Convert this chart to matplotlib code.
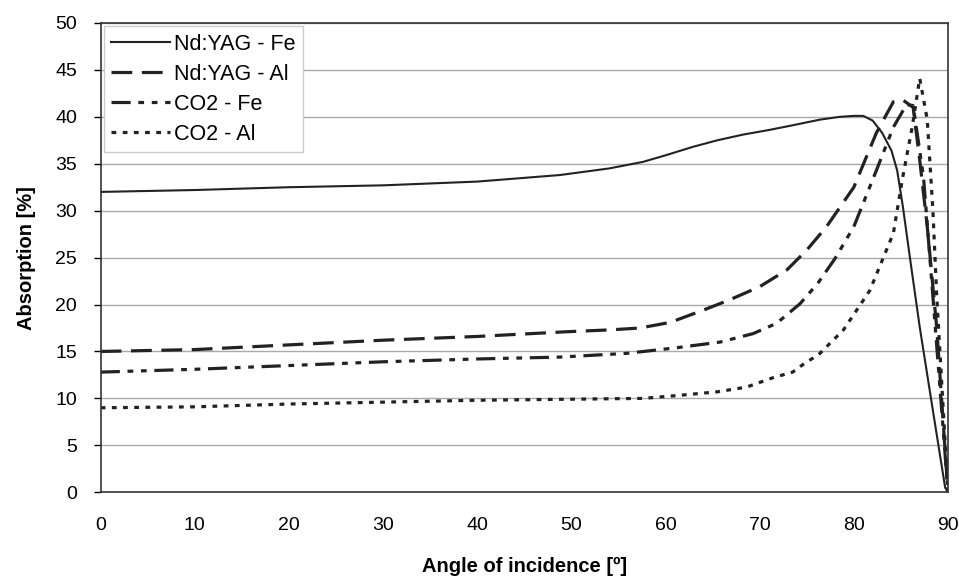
import numpy as np
import matplotlib.pyplot as plt

plt.rcParams['font.family'] = ['Liberation Sans', 'DejaVu Sans']

# Nd:YAG - Fe
angle_yag_fe = [0, 10, 20, 30, 40, 48.8, 54, 57.6, 60, 62.9, 65.5, 68.2, 71, 73.5, 76.4, 78.5, 80, 81, 82, 83, 84, 84.6, 85.2, 86, 87, 88.4, 89.7, 90]
abs_yag_fe = [32.0, 32.2, 32.5, 32.7, 33.1, 33.8, 34.5, 35.2, 35.9, 36.8, 37.5, 38.1, 38.6, 39.1, 39.7, 40.0, 40.1, 40.1, 39.6, 38.3, 36.4, 34.3, 30.5, 24.7, 17.6, 8.7, 0.5, 0.0]

# Nd:YAG - Al
angle_yag_al = [0, 10, 20, 30, 40, 49.5, 54.1, 57.3, 60.5, 64, 66.8, 70, 72.9, 75, 77.1, 80, 82.4, 84.2, 85.2, 86.3, 87, 87.8, 88.8, 90]
abs_yag_al = [15.0, 15.2, 15.7, 16.2, 16.6, 17.1, 17.3, 17.5, 18.1, 19.4, 20.5, 21.9, 23.7, 25.8, 28.3, 32.5, 38.3, 41.6, 41.8, 41.0, 35.4, 28.3, 17.6, 0.0]

# CO2 - Fe
angle_co2_fe = [0, 10, 20, 30, 40, 48.8, 55.9, 61.2, 65.8, 69.3, 71.8, 74.3, 76.2, 78, 80, 82.4, 84.2, 85.6, 86.3, 87.4, 88.1, 89.2, 90]
abs_co2_fe = [12.8, 13.1, 13.5, 13.9, 14.2, 14.4, 14.8, 15.4, 16.0, 16.9, 18.0, 20.1, 22.3, 24.9, 28.3, 34.3, 38.9, 41.3, 41.2, 33.6, 24.7, 10.5, 0.0]

# CO2 - Al
angle_co2_al = [0, 10, 20, 30, 40, 48.8, 57.6, 61.2, 65.5, 68.6, 71.4, 73.5, 75, 76.2, 78.9, 81.7, 84.2, 85.2, 86.2, 87.0, 87.8, 88.4, 88.8, 89.4, 90]
abs_co2_al = [9.0, 9.1, 9.4, 9.6, 9.8, 9.9, 10.0, 10.3, 10.7, 11.2, 12.2, 12.8, 13.9, 14.6, 17.3, 21.5, 27.6, 33.6, 38.9, 44.1, 39.7, 30.0, 21.0, 10.5, 0.0]

fig = plt.figure(figsize=(9.59, 5.86), dpi=100)
ax = fig.add_axes([0.105, 0.160, 0.8835, 0.8008])

ax.plot(angle_yag_fe, abs_yag_fe, color='#222222', lw=1.5, ls='-', label='Nd:YAG - Fe')
ax.plot(angle_yag_al, abs_yag_al, color='#222222', lw=2.3, ls=(0, (6.5, 3)), label='Nd:YAG - Al')
ax.plot(angle_co2_fe, abs_co2_fe, color='#222222', lw=2.3, ls=(0, (6, 2.4, 1.8, 2.4, 1.8, 2.4)), label='CO2 - Fe')
ax.plot(angle_co2_al, abs_co2_al, color='#222222', lw=2.3, ls=(0, (1.5, 2.0)), label='CO2 - Al')

ax.set_xlim(0, 90)
ax.set_ylim(0, 50)
ax.set_xticks(np.arange(0, 91, 10))
ax.set_yticks(np.arange(0, 51, 5))
ax.yaxis.grid(True, color='#aaaaaa', lw=1)
ax.set_axisbelow(True)
ax.tick_params(axis='y', direction='out', length=5, width=1, labelsize=14, pad=12)
ax.tick_params(axis='x', length=0, labelsize=14, pad=18)
for s in ax.spines.values():
    s.set_color('#333333')
    s.set_linewidth(1.2)

ax.set_xlabel('Angle of incidence [º]', fontsize=14.5, fontweight='bold', labelpad=16)
ax.set_ylabel('Absorption [%]', fontsize=14.5, fontweight='bold', labelpad=14)

leg = ax.legend(loc='upper left', fontsize=15.5, handlelength=2.7, handletextpad=0.2,
                borderpad=0.35, labelspacing=0.42, fancybox=False, framealpha=1,
                edgecolor='#cccccc', borderaxespad=0.15)

fig.savefig('out.png', dpi=100)
